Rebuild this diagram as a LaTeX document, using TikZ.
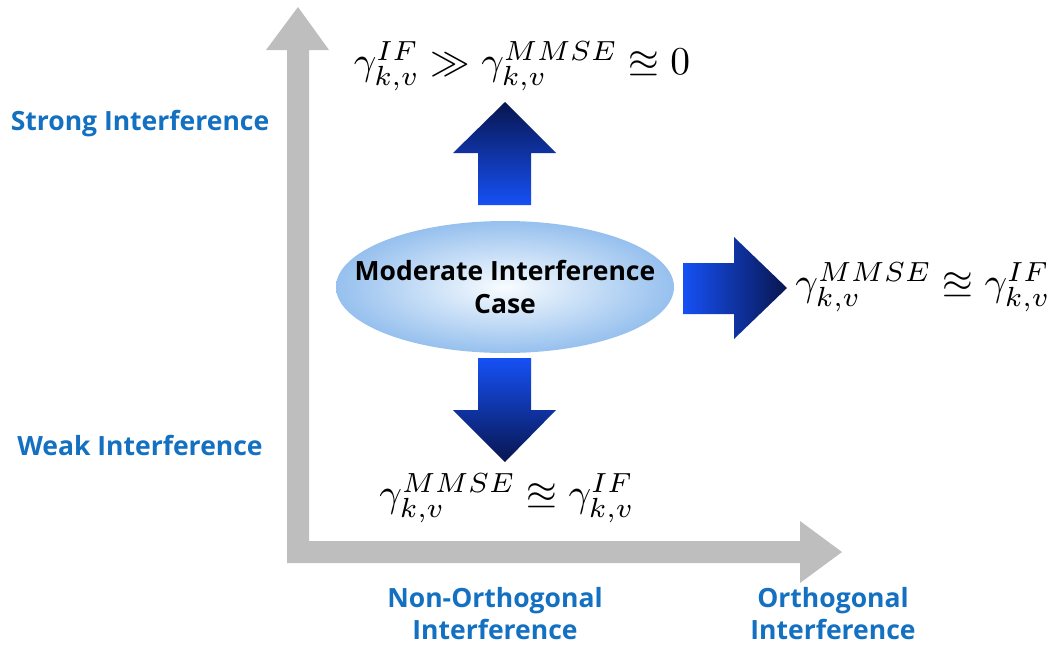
\documentclass[tikz,border=0pt]{standalone}
\usepackage{amsmath,amssymb}
\usepackage[no-math]{fontspec}
\setmainfont{Open Sans}
\definecolor{axisgray}{RGB}{190,190,190}
\definecolor{labelblue}{RGB}{20,112,192}
\definecolor{arrdark}{RGB}{8,22,80}
\definecolor{arrbright}{RGB}{22,80,245}
\definecolor{ellout}{RGB}{150,192,238}
\definecolor{ellin}{RGB}{248,252,255}
\newcommand{\bigmath}[1]{\scalebox{3.95}{$#1$}}
\begin{document}
\begin{tikzpicture}[x=1pt,y=-1pt,
  axislabel/.style={font=\fontsize{26.5}{32}\selectfont\bfseries, text=labelblue, align=center, inner sep=0pt},
  mathlabel/.style={inner sep=0pt},
  midtext/.style={font=\fontsize{26.5}{33}\selectfont\bfseries, align=center, inner sep=0pt}]
\useasboundingbox (0,0) rectangle (1055,646);
% axes
\fill[axisgray] (287,563) -- (800,563) -- (800,583) -- (842,552) -- (800,521) -- (800,541)
  -- (309,541) -- (309,50) -- (329,50) -- (298,7) -- (266,50) -- (287,50) -- cycle;
% ellipse
\shade[inner color=ellin, outer color=ellout] (505,287) ellipse [x radius=169, y radius=66];
\node[midtext] (mid) at (505,287) {Moderate Interference\\Case};
% up arrow
\shade[top color=arrdark, bottom color=arrbright]
  (478,205) -- (478,153) -- (453,153) -- (505,102) -- (556,153) -- (531,153) -- (531,205) -- cycle;
% down arrow
\shade[top color=arrbright, bottom color=arrdark]
  (478,358) -- (478,410) -- (453,410) -- (505,462) -- (556,410) -- (531,410) -- (531,358) -- cycle;
% right arrow
\shade[left color=arrbright, right color=arrdark]
  (683,263) -- (734,263) -- (734,237) -- (787,288) -- (734,339) -- (734,314) -- (683,314) -- cycle;
% labels
\node[axislabel] (strong) at (140,124) {Strong Interference};
\node[axislabel] (weak) at (140,445) {Weak Interference};
\node[axislabel] (nonorth) at (495,614) {Non-Orthogonal\\Interference};
\node[axislabel] (orth) at (833,614) {Orthogonal\\Interference};
% math
\node[mathlabel] (top) at (522,66) {\bigmath{\gamma_{k,v}^{IF} \gg \gamma_{k,v}^{MMSE} \approxeq 0}};
\node[mathlabel] (right) at (923,287) {\bigmath{\gamma_{k,v}^{MMSE} \approxeq \gamma_{k,v}^{IF}}};
\node[mathlabel] (bottom) at (507,498) {\bigmath{\gamma_{k,v}^{MMSE} \approxeq \gamma_{k,v}^{IF}}};
\end{tikzpicture}
\end{document}
